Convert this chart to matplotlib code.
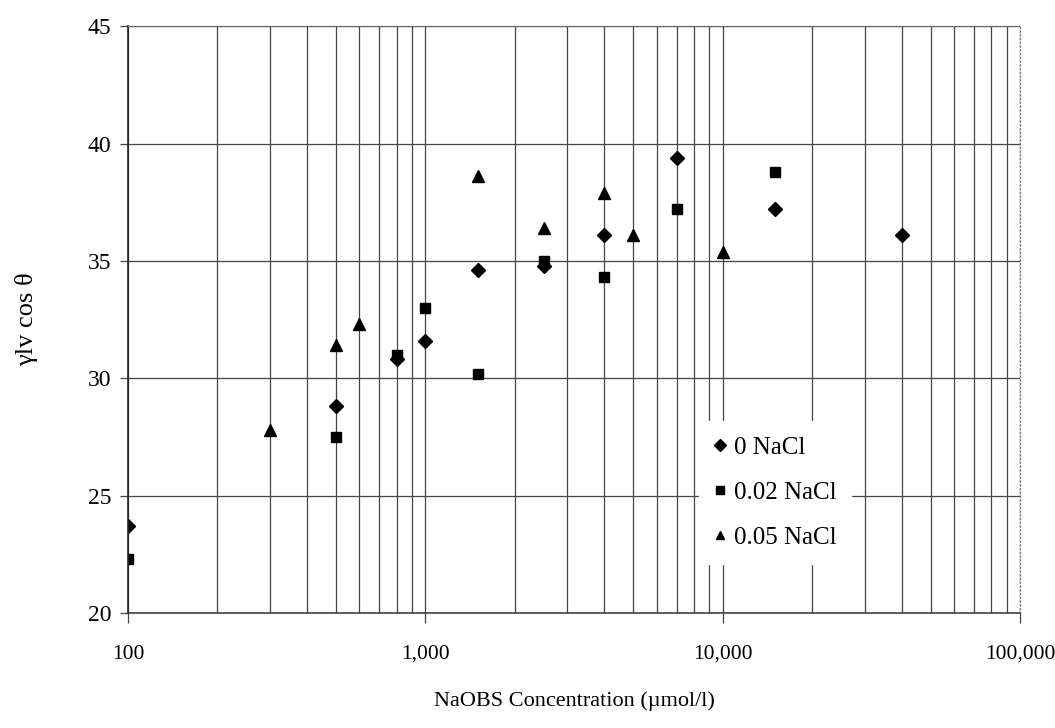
import matplotlib
matplotlib.use("Agg")
import matplotlib.pyplot as plt
from matplotlib.ticker import FixedLocator, FuncFormatter, NullFormatter, LogLocator

plt.rcParams['font.family'] = ['Liberation Serif', 'DejaVu Serif']

# NaOBS concentration (µmol/l) and γlv cos θ for each NaCl level
conc_0 = [100, 500, 800, 1000, 1500, 2500, 4000, 7000, 15000, 40000]
val_0 = [23.7, 28.8, 30.8, 31.6, 34.6, 34.8, 36.1, 39.4, 37.2, 36.1]

conc_002 = [100, 500, 800, 1000, 1500, 2500, 4000, 7000, 15000]
val_002 = [22.3, 27.5, 31.0, 33.0, 30.2, 35.0, 34.3, 37.2, 38.8]

conc_005 = [300, 500, 600, 1500, 2500, 4000, 5000, 10000]
val_005 = [27.8, 31.4, 32.3, 38.6, 36.4, 37.9, 36.1, 35.4]

labels = ['0 NaCl', '0.02 NaCl', '0.05 NaCl']
x_ticks = [100, 1000, 10000, 100000]
y_ticks = [20, 25, 30, 35, 40, 45]

fig = plt.figure(figsize=(10.55, 7.28), dpi=100)
ax = fig.add_axes([0.1213, 0.158, 0.8457, 0.806])

ax.set_xscale('log')
ax.set_xlim(100, 100000)
ax.set_ylim(20, 45)

grid_c = '#444444'
ax.xaxis.set_major_locator(FixedLocator(x_ticks))
ax.xaxis.set_minor_locator(LogLocator(base=10, subs=range(2, 10), numticks=20))
ax.xaxis.set_major_formatter(FuncFormatter(lambda v, p: f'{int(v):,}'))
ax.xaxis.set_minor_formatter(NullFormatter())
ax.yaxis.set_major_locator(FixedLocator(y_ticks))

ax.grid(True, which='both', axis='x', color=grid_c, linewidth=0.9)
ax.grid(True, which='major', axis='y', color=grid_c, linewidth=0.9)
ax.set_axisbelow(True)

ax.tick_params(axis='x', which='major', direction='out', length=7, width=0.9,
               color=grid_c, labelsize=15.5, pad=16)
ax.tick_params(axis='x', which='minor', length=0)
ax.tick_params(axis='y', which='major', direction='out', length=6, width=0.9,
               color=grid_c, labelsize=17, pad=6)

for side in ('top', 'right'):
    ax.spines[side].set_linestyle((0, (1, 2)))
    ax.spines[side].set_color('#777777')
    ax.spines[side].set_linewidth(0.9)
ax.spines['left'].set_color('#222222')
ax.spines['left'].set_linewidth(1.2)
ax.spines['bottom'].set_color('#333333')
ax.spines['bottom'].set_linewidth(1.1)

ax.plot(conc_0, val_0, linestyle='none', marker='D', markersize=7.5,
        color='black', label=labels[0])
ax.plot(conc_002, val_002, linestyle='none', marker='s', markersize=7.5,
        color='black', label=labels[1])
ax.plot(conc_005, val_005, linestyle='none', marker='^', markersize=8.5,
        color='black', label=labels[2])

leg = ax.legend(loc='center', bbox_to_anchor=(0.725, 0.205),
                frameon=True, fontsize=18, handlelength=0.5, handletextpad=0.3,
                borderpad=0.6, labelspacing=0.9, markerscale=0.75,
                borderaxespad=0, fancybox=False)
leg.get_frame().set_edgecolor('white')
leg.get_frame().set_facecolor('white')
leg.get_frame().set_alpha(1.0)

ax.set_xlabel('NaOBS Concentration (µmol/l)', fontsize=16, labelpad=20)
ax.set_ylabel('γlv cos θ', fontsize=19, labelpad=36)

fig.savefig('out.png', dpi=100, facecolor='white')
